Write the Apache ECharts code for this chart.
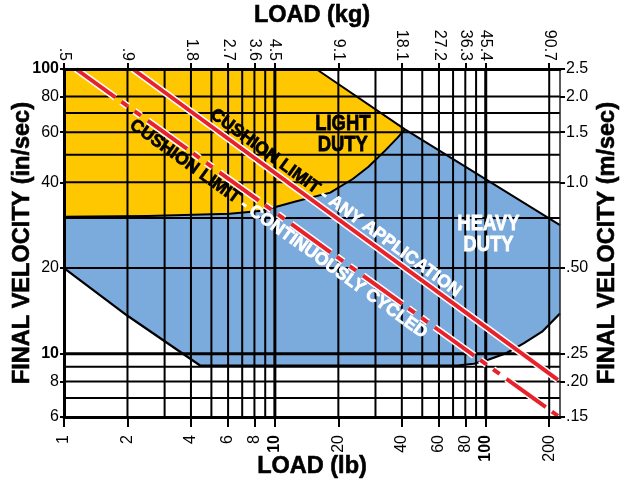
<!DOCTYPE html>
<html><head><meta charset="utf-8">
<script src="https://cdn.jsdelivr.net/npm/echarts@6/dist/echarts.min.js"></script>
<style>html,body{margin:0;padding:0;background:#fff}#c{width:627px;height:483px}</style>
</head><body><div id="c"></div>
<script>
const FONT = '"Liberation Sans", Arial, sans-serif';

// axis ticks and labels
const loadTicksLb = [1, 2, 4, 6, 8, 10, 20, 40, 60, 80, 100, 200];
const loadTickLabelsKg = ['.5', '.9', '1.8', '2.7', '3.6', '4.5', '9.1', '18.1', '27.2', '36.3', '45.4', '90.7'];
const velTicksIn = [6, 8, 10, 20, 40, 60, 80, 100];
const velTickLabelsMs = ['.15', '.20', '.25', '.50', '1.0', '1.5', '2.0', '2.5'];
const loadGridLb = [2, 3, 4, 5, 6, 7, 8, 9, 10, 20, 30, 40, 50, 60, 70, 80, 90, 100, 200];
const velGridIn = [7, 8, 9, 10, 20, 30, 40, 50, 60, 70, 80];
const loadMin = 1, loadMax = 225, velMin = 6, velMax = 100;

// regions [load lb, velocity in/sec]
const lightHeavyBoundary = [[41.4,61.4],[38.2,57.4],[33.5,51.9],[27.8,45.4],[23.4,41.1],[18.3,36.8],[12.4,34.2],[8.68,31.8],[6.1,31],[2.5,30.5],[1,30.3]];
const lightDutyRegion = [[1,100],[15.7,100]].concat(lightHeavyBoundary);
const upperBoundary = [[15.7,100],[41.4,61.4],[225,28.3]];
const lowerBoundary = [[1,20],[2,13.6],[4.42,9.1],[61,9.1],[73.5,9.1],[87.8,9.23],[102.7,9.53],[125,10.05],[151.9,10.9],[185,11.96],[225,13.86]];
const heavyDutyRegion = lightHeavyBoundary.slice().reverse().concat([[225,28.3]], lowerBoundary.slice().reverse());

// cushion limit lines
const cushionAnyApplication = [[2.12,100],[220,8.1]];
const cushionContinuous = [[1.14,100],[220,6.05]];
const anyAppLabelAt = 18;
const continuousLabelAt = 11.2;
const lightDutyAt = [21, 59];
const heavyDutyAt = [103, 26.3];

const YELLOW = '#FFC700', BLUE = '#7BAADC', RED = '#E8222A';
const NARROW = 0.82;

function near(a, b) { return Math.abs(Math.log(a) - Math.log(b)) < 1e-6; }
function lookup(v, keys, labels) { for (let i = 0; i < keys.length; i++) if (near(v, keys[i])) return labels[i]; return ''; }

function polygonSeries(pts, color, z) {
  return { type: 'custom', z, silent: true, animation: false, data: [pts[0]],
    renderItem: (p, api) => ({ type: 'polygon', shape: { points: pts.map(q => api.coord(q)) }, style: { fill: color } }) };
}
function polylineSeries(pts, width, z) {
  return { type: 'custom', z, silent: true, animation: false, data: [pts[0]],
    renderItem: (p, api) => ({ type: 'polyline', shape: { points: pts.map(q => api.coord(q)) }, style: { stroke: '#000', lineWidth: width, fill: null, lineJoin: 'round' } }) };
}
function lineLabelSeries(line, atLoad, side, dist, text, z) {
  const fs = 17.5;
  const part = c => ({ fill: c, stroke: c, lineWidth: 0.7, fontFamily: FONT, fontWeight: 'bold', fontSize: fs });
  return { type: 'custom', z, silent: true, animation: false, data: [[atLoad, line[0][1]]],
    renderItem: (p, api) => {
      const [x1, y1] = line[0], [x2, y2] = line[1];
      const t = Math.log(atLoad / x1) / Math.log(x2 / x1);
      const yv = y1 * Math.pow(y2 / y1, t);
      const c = api.coord([atLoad, yv]);
      const a = api.coord(line[0]), b = api.coord(line[1]);
      const ang = Math.atan2(b[1] - a[1], b[0] - a[0]);
      const nx = Math.sin(ang) * side, ny = -Math.cos(ang) * side;
      return { type: 'text', x: c[0] + nx * dist, y: c[1] + ny * dist, rotation: -ang,
        style: { text, align: 'center', verticalAlign: 'middle', fontFamily: FONT, fontWeight: 'bold', fontSize: fs,
          rich: { k: part('#000'), w: part('#fff') } } };
    } };
}
function regionLabelSeries(at, text, color, z) {
  return { type: 'custom', z, silent: true, animation: false, data: [at],
    renderItem: (p, api) => { const c = api.coord(at);
      return { type: 'text', x: c[0], y: c[1], scaleX: NARROW, style: { text, fill: color, stroke: color, lineWidth: 0.8, align: 'center', verticalAlign: 'middle', fontFamily: FONT, fontWeight: 'bold', fontSize: 22.5, lineHeight: 21 } }; } };
}

const nameStyle = { fontFamily: FONT, fontWeight: 'bold', fontSize: 23.5, color: '#000', textBorderColor: '#000', textBorderWidth: 0.6 };
const tickLabel = { fontFamily: FONT, fontSize: 16, color: '#000' };
const boldRich = { b: { fontFamily: FONT, fontSize: 16, fontWeight: 'bold', color: '#000' } };
const intOrBold = v => (near(v, 10) || near(v, 100)) ? '{b|' + Math.round(v) + '}' : String(Math.round(v));

const chart = echarts.init(document.getElementById('c'));
chart.setOption({
  animation: false,
  grid: { left: 64, top: 69, right: 67, bottom: 66, containLabel: false, outerBoundsMode: 'none' },
  xAxis: [
    { type: 'log', position: 'bottom', min: loadMin, max: loadMax, z: 10,
      axisLine: { onZero: false, lineStyle: { color: '#000', width: 3 } },
      axisTick: { customValues: loadTicksLb, length: 10, lineStyle: { color: '#000', width: 2 } },
      axisLabel: Object.assign({ customValues: loadTicksLb, rotate: 90, margin: 18, rich: boldRich, formatter: intOrBold }, tickLabel),
      splitLine: { show: false }, minorTick: { show: false },
      name: 'LOAD (lb)', nameLocation: 'middle', nameGap: 38, nameMoveOverlap: false, nameTextStyle: nameStyle },
    { type: 'log', position: 'top', min: loadMin, max: loadMax, z: 10,
      axisLine: { onZero: false, lineStyle: { color: '#000', width: 3 } },
      axisTick: { customValues: loadTicksLb, length: 6, lineStyle: { color: '#000', width: 2 } },
      axisLabel: Object.assign({ customValues: loadTicksLb, rotate: 90, margin: 8,
        formatter: v => lookup(v, loadTicksLb, loadTickLabelsKg) }, tickLabel),
      splitLine: { show: false },
      name: 'LOAD (kg)', nameLocation: 'middle', nameGap: 41, nameMoveOverlap: false, nameTextStyle: nameStyle }
  ],
  yAxis: [
    { type: 'log', position: 'left', min: velMin, max: velMax, z: 10,
      axisLine: { onZero: false, lineStyle: { color: '#000', width: 3 } },
      axisTick: { customValues: velTicksIn, length: 4, lineStyle: { color: '#000', width: 2 } },
      axisLabel: Object.assign({ customValues: velTicksIn, margin: 5, rich: boldRich, formatter: intOrBold }, tickLabel),
      splitLine: { show: false },
      name: 'FINAL VELOCITY (in/sec)', nameLocation: 'middle', nameRotate: 90, nameGap: 29, nameMoveOverlap: false, nameTextStyle: nameStyle },
    { type: 'log', position: 'right', min: velMin, max: velMax, z: 10,
      axisLine: { onZero: false, lineStyle: { color: '#222', width: 1.5 } },
      axisTick: { customValues: velTicksIn, length: 5, lineStyle: { color: '#000', width: 2 } },
      axisLabel: Object.assign({ customValues: velTicksIn, margin: 6,
        formatter: v => lookup(v, velTicksIn, velTickLabelsMs) }, tickLabel),
      splitLine: { show: false },
      name: 'FINAL VELOCITY (m/sec)', nameLocation: 'middle', nameRotate: 90, nameGap: 36, nameMoveOverlap: false, nameTextStyle: nameStyle }
  ],
  series: [
    polygonSeries(lightDutyRegion, YELLOW, 1),
    polygonSeries(heavyDutyRegion, BLUE, 1),
    { type: 'custom', z: 3, silent: true, animation: false, data: loadGridLb.map(v => [v, velMin]),
      renderItem: (p, api) => { const v = api.value(0); const a = api.coord([v, velMin]), b = api.coord([v, velMax]);
        return { type: 'line', shape: { x1: a[0], y1: a[1], x2: b[0], y2: b[1] }, style: { stroke: '#000', lineWidth: (near(v, 10) || near(v, 100)) ? 3 : 2 } }; } },
    { type: 'custom', z: 3, silent: true, animation: false, data: velGridIn.map(v => [loadMin, v]),
      renderItem: (p, api) => { const v = api.value(1); const a = api.coord([loadMin, v]), b = api.coord([loadMax, v]);
        return { type: 'line', shape: { x1: a[0], y1: a[1], x2: b[0], y2: b[1] }, style: { stroke: '#000', lineWidth: near(v, 10) ? 3 : 2 } }; } },
    polylineSeries(upperBoundary, 2, 4),
    polylineSeries(lightHeavyBoundary, 2, 4),
    polylineSeries(lowerBoundary, 2.2, 4),
    { type: 'line', data: cushionAnyApplication, symbol: 'none', silent: true, z: 5, lineStyle: { color: '#fff', width: 7 } },
    { type: 'line', data: cushionAnyApplication, symbol: 'none', silent: true, z: 6, lineStyle: { color: RED, width: 4 } },
    { type: 'line', data: cushionContinuous, symbol: 'none', silent: true, z: 5, lineStyle: { color: '#fff', width: 7, type: [48.5, 7.5, 8, 8, 8, 8.4] } },
    { type: 'line', data: cushionContinuous, symbol: 'none', silent: true, z: 6, lineStyle: { color: RED, width: 4, type: [48.5, 7.5, 8, 8, 8, 8.4] } },
    lineLabelSeries(cushionAnyApplication, anyAppLabelAt, 1, 11.5, '{k|CUSHION LIMIT}{w| - ANY APPLICATION}', 7),
    lineLabelSeries(cushionContinuous, continuousLabelAt, -1, 11.5, '{k|CUSHION LIMIT}{w| - CONTINUOUSLY CYCLED}', 7),
    regionLabelSeries(lightDutyAt, 'LIGHT\nDUTY', '#000', 7),
    regionLabelSeries(heavyDutyAt, 'HEAVY\nDUTY', '#fff', 7)
  ]
});
</script></body></html>
